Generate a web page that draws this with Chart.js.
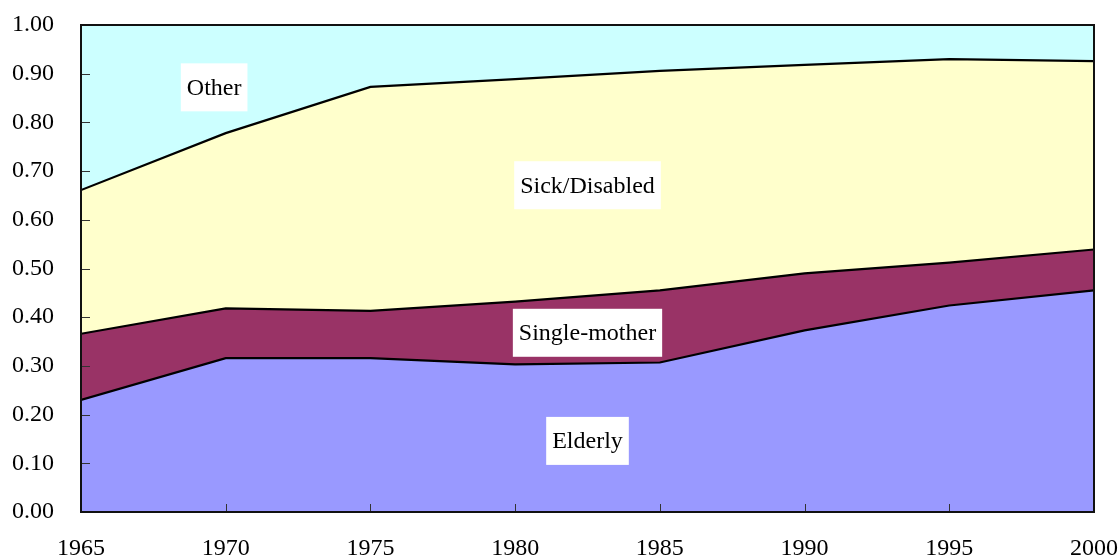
<!DOCTYPE html>
<html>
<head>
<meta charset="utf-8">
<script src="https://cdn.jsdelivr.net/npm/chart.js@4.4.1/dist/chart.umd.min.js"></script>
<style>
  html, body { margin: 0; padding: 0; background: #ffffff; }
  #wrap { width: 1120px; height: 558px; position: relative; }
</style>
</head>
<body>
<div id="wrap"><canvas id="c" width="1120" height="558"></canvas></div>
<script>
// ---- data ----
const years = [1965, 1970, 1975, 1980, 1985, 1990, 1995, 2000];
const elderly      = [0.230, 0.316, 0.316, 0.303, 0.307, 0.373, 0.424, 0.455];
const singleMother = [0.136, 0.102, 0.097, 0.129, 0.148, 0.117, 0.088, 0.084];
const sickDisabled = [0.295, 0.360, 0.460, 0.457, 0.451, 0.428, 0.418, 0.387];
const other        = [0.339, 0.222, 0.127, 0.111, 0.094, 0.082, 0.070, 0.074];
const seriesNames  = ['Elderly', 'Single-mother', 'Sick/Disabled', 'Other'];
const yTickValues  = [0, 0.1, 0.2, 0.3, 0.4, 0.5, 0.6, 0.7, 0.8, 0.9, 1.0];
const xTickValues  = years;
// label anchor points in data units: [x, y]
const labelPoints  = [[1982.5, 0.146], [1982.5, 0.368], [1982.5, 0.671], [1969.6, 0.872]];

const colors = ['#9999ff', '#993366', '#ffffcc', '#ccffff'];
const FONT = "'Liberation Serif', 'Times New Roman', serif";
const FSIZE = 24;

function pts(arr) { return years.map((y, i) => ({ x: y, y: arr[i] })); }

const decor = {
  id: 'decor',
  afterDatasetsDraw(chart) {
    const { ctx, chartArea: a, scales } = chart;
    const xs = scales.x, ys = scales.y;
    ctx.save();
    // tick marks (inside)
    ctx.strokeStyle = '#333';
    ctx.lineWidth = 1;
    yTickValues.forEach(v => {
      const py = Math.round(ys.getPixelForValue(v)) + 0.5;
      ctx.beginPath(); ctx.moveTo(a.left, py); ctx.lineTo(a.left + 9, py); ctx.stroke();
    });
    xTickValues.forEach(v => {
      const px = Math.round(xs.getPixelForValue(v)) + 0.5;
      ctx.beginPath(); ctx.moveTo(px, a.bottom); ctx.lineTo(px, a.bottom - 8); ctx.stroke();
    });
    // frame
    ctx.strokeStyle = '#111';
    ctx.lineWidth = 2;
    ctx.strokeRect(a.left, a.top, a.right - a.left, a.bottom - a.top);
    // series labels
    ctx.font = FSIZE + 'px ' + FONT;
    ctx.textAlign = 'center';
    ctx.textBaseline = 'middle';
    seriesNames.forEach((name, i) => {
      const px = xs.getPixelForValue(labelPoints[i][0]);
      const py = ys.getPixelForValue(labelPoints[i][1]);
      const w = ctx.measureText(name).width + 12;
      const h = 48;
      ctx.fillStyle = '#ffffff';
      ctx.fillRect(px - w / 2, py - h / 2, w, h);
      ctx.fillStyle = '#000000';
      ctx.fillText(name, px, py + 1);
    });
    ctx.restore();
  }
};

Chart.defaults.font.family = FONT;
Chart.defaults.font.size = FSIZE;
Chart.defaults.color = '#000000';

new Chart(document.getElementById('c'), {
  type: 'line',
  data: {
    datasets: [elderly, singleMother, sickDisabled, other].map((arr, i) => ({
      label: seriesNames[i],
      data: pts(arr),
      backgroundColor: colors[i],
      borderColor: '#000000',
      borderWidth: 2.2,
      pointRadius: 0,
      tension: 0,
      fill: i === 0 ? 'origin' : '-1'
    }))
  },
  options: {
    responsive: false,
    animation: false,
    events: [],
    layout: { padding: { left: 0, right: 26, top: 25, bottom: 0 } },
    plugins: { legend: { display: false }, tooltip: { enabled: false } },
    scales: {
      x: {
        type: 'linear',
        min: 1965, max: 2000,
        afterBuildTicks(scale) { scale.ticks = xTickValues.map(v => ({ value: v })); },
        afterFit(scale) {
          scale.height = 46;
          scale.paddingLeft = 0; scale.paddingRight = 0; scale.paddingTop = 0; scale.paddingBottom = 0;
        },
        ticks: { padding: 22, maxRotation: 0, autoSkip: false, callback: v => String(v),
                 font: { family: FONT, size: FSIZE } },
        grid: { display: false, drawTicks: false },
        border: { display: false }
      },
      y: {
        stacked: true,
        min: 0, max: 1,
        afterBuildTicks(scale) { scale.ticks = yTickValues.map(v => ({ value: v })); },
        afterFit(scale) {
          scale.width = 81;
          scale.paddingLeft = 0; scale.paddingRight = 0; scale.paddingTop = 0; scale.paddingBottom = 0;
        },
        ticks: { padding: 27, callback: v => Number(v).toFixed(2),
                 font: { family: FONT, size: FSIZE } },
        grid: { display: false, drawTicks: false },
        border: { display: false }
      }
    }
  },
  plugins: [decor]
});
</script>
</body>
</html>
